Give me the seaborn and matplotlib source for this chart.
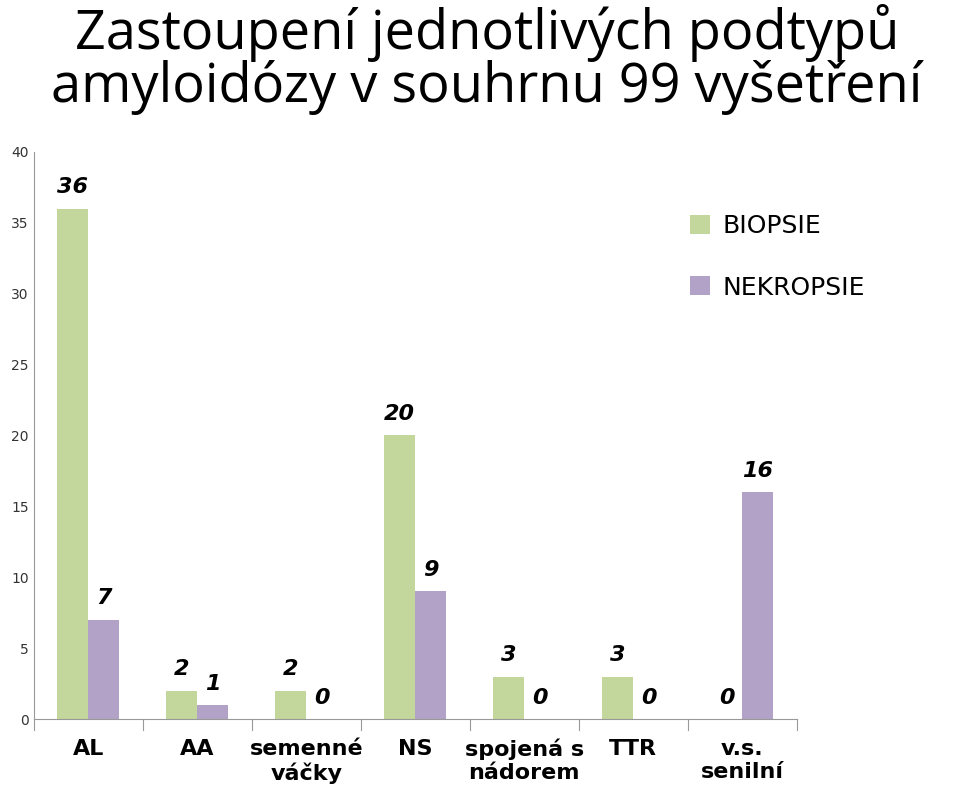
import matplotlib
matplotlib.use("Agg")
import matplotlib.pyplot as plt
import seaborn as sns
import pandas as pd

categories = ["AL", "AA", "semenné\nváčky", "NS", "spojená s\nnádorem", "TTR", "v.s.\nsenilní"]
biopsie = [36, 2, 2, 20, 3, 3, 0]
nekropsie = [7, 1, 0, 9, 0, 0, 16]
series = ["BIOPSIE", "NEKROPSIE"]
colors = ["#C3D69B", "#B3A2C7"]

df = pd.DataFrame({
    "cat": categories * 2,
    "val": biopsie + nekropsie,
    "ser": [series[0]] * 7 + [series[1]] * 7,
})

fig = plt.figure(figsize=(9.59, 7.99), dpi=100)
ax = fig.add_axes([0.035, 0.1, 0.796, 0.71])
sns.barplot(data=df, x="cat", y="val", hue="ser", palette=colors, width=0.57,
            ax=ax, saturation=1)
ax.set_ylim(0, 40)
ax.set_xlim(-0.5, 6.5)
ax.set_yticks(range(0, 41, 5))
ax.tick_params(axis="y", labelsize=10, length=0, colors="#333333")
ax.tick_params(axis="x", labelsize=16, length=0, pad=14)
for t in ax.get_xticklabels():
    t.set_fontweight("bold")
ax.set_xlabel("")
ax.set_ylabel("")
for s in ["top", "right"]:
    ax.spines[s].set_visible(False)
for s in ["left", "bottom"]:
    ax.spines[s].set_color("#999999")
for i in range(8):
    ax.plot([i - 0.5, i - 0.5], [0, -0.8], color="#999999", lw=0.8, clip_on=False)

for cont in ax.containers:
    for bar in cont:
        h = bar.get_height()
        x = bar.get_x() + bar.get_width() / 2
        ax.text(x, h + 0.8, f"{int(h)}", ha="center", va="bottom",
                fontsize=16, fontweight="bold", style="italic")

leg = ax.legend(loc="upper left", bbox_to_anchor=(0.83, 0.93), frameon=False,
                fontsize=18, handlelength=0.8, handleheight=0.8, labelspacing=1.5,
                handletextpad=0.5)

fig.text(0.508, 0.995, "Zastoupení jednotlivých podtypů\namyloidózy v souhrnu 99 vyšetření",
         fontsize=39, va="top", ha="center", family="Open Sans", linespacing=0.95)
fig.savefig("out.png", dpi=100)
